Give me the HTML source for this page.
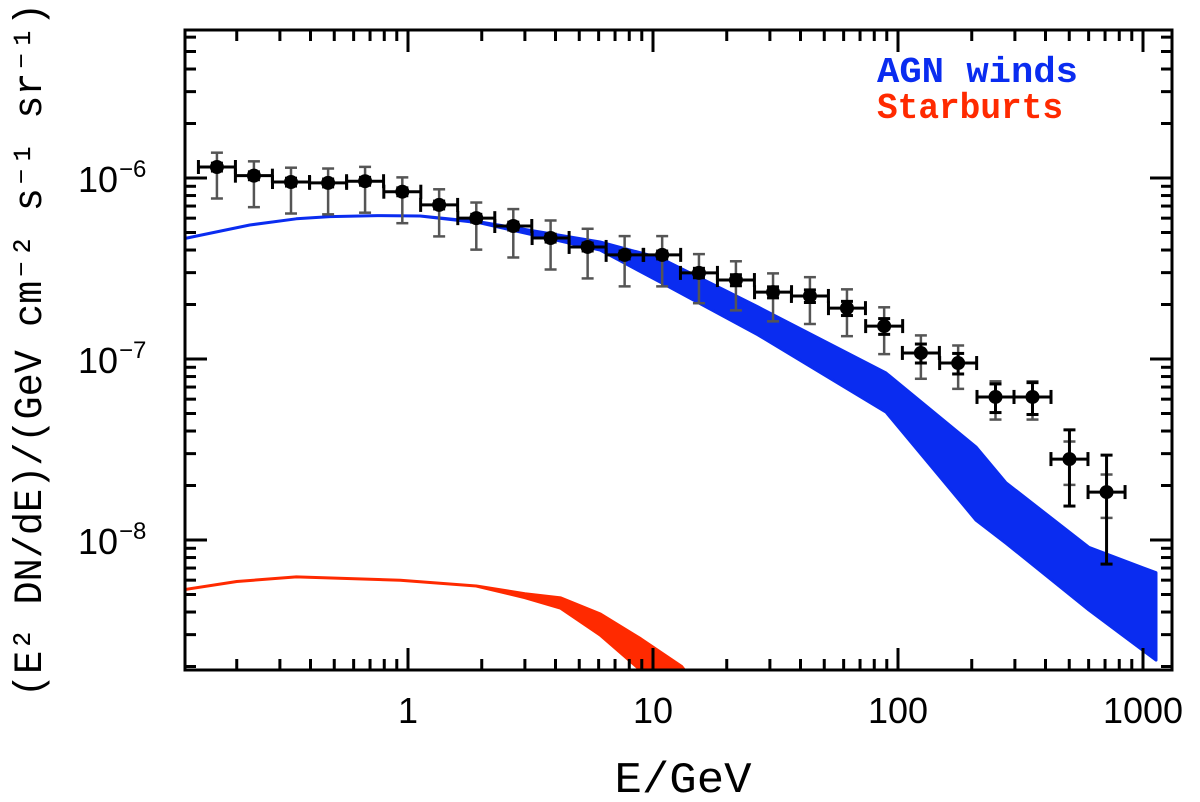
<!DOCTYPE html>
<html><head><meta charset="utf-8"><style>
html,body{margin:0;padding:0;background:#fff;}
svg{display:block;}
</style></head><body>
<svg id="chart" width="1200" height="802" viewBox="0 0 1200 802" xmlns="http://www.w3.org/2000/svg">
<defs><clipPath id="plotclip"><rect x="185" y="30" width="987" height="640"/></clipPath></defs>
<g id="bands" clip-path="url(#plotclip)"></g>
<g id="points"></g>
<g id="axes"></g>
<text x="877" y="82" font-family="Liberation Mono, monospace" font-weight="bold" font-size="36" fill="#0a2cf0" textLength="201" lengthAdjust="spacingAndGlyphs">AGN winds</text>
<text x="877" y="118" font-family="Liberation Mono, monospace" font-weight="bold" font-size="36" fill="#ff2a00" textLength="186" lengthAdjust="spacingAndGlyphs">Starburts</text>
<text x="683" y="792" text-anchor="middle" font-family="Liberation Mono, monospace" font-size="44" fill="#000" textLength="137" lengthAdjust="spacingAndGlyphs">E/GeV</text>
<text transform="translate(41,350) rotate(-90)" text-anchor="middle" font-family="Liberation Mono, monospace" font-size="40" fill="#000" textLength="694" lengthAdjust="spacingAndGlyphs">(E² DN/dE)/(GeV cm⁻² s⁻¹ sr⁻¹)</text>
</svg>
<script>
// ---- data ----
const pointEnergies = [0.166,0.235,0.333,0.472,0.668,0.948,1.34,1.90,2.69,3.82,5.41,7.66,10.9,15.4,21.8,30.9,43.7,61.9,87.8,124,176,250,354,501,710];
const pointFlux = [1.15e-6,1.03e-6,9.5e-7,9.4e-7,9.6e-7,8.4e-7,7.1e-7,6.0e-7,5.43e-7,4.66e-7,4.16e-7,3.76e-7,3.76e-7,2.99e-7,2.73e-7,2.34e-7,2.23e-7,1.91e-7,1.52e-7,1.08e-7,9.5e-8,6.17e-8,6.17e-8,2.8e-8,1.84e-8];
const statErr = [0.05,0.05,0.05,0.05,0.05,0.05,0.05,0.05,0.05,0.05,0.05,0.05,0.05,0.06,0.07,0.07,0.08,0.09,0.1,0.12,0.13,0.18,0.2,0.45,0.6];
const sysUp = [0.2,0.2,0.2,0.2,0.2,0.2,0.22,0.22,0.24,0.25,0.26,0.27,0.27,0.27,0.27,0.27,0.27,0.27,0.27,0.25,0.25,0.22,0.22,0.25,0.25];
const sysDown = [0.33,0.33,0.33,0.33,0.33,0.33,0.33,0.33,0.33,0.33,0.33,0.33,0.33,0.32,0.32,0.31,0.3,0.3,0.3,0.28,0.28,0.25,0.25,0.28,0.28];
const agnE = [0.12,0.226,0.35,0.48,0.75,1.12,1.97,6.08,10.7,26.8,89.3,208,276,602,1130];
const agnUpper = [4.6e-7,5.5e-7,5.95e-7,6.12e-7,6.2e-7,6.17e-7,5.71e-7,4.43e-7,3.61e-7,1.94e-7,8.37e-8,3.27e-8,2.07e-8,9.1e-9,6.6e-9];
const agnLower = [4.6e-7,5.5e-7,5.95e-7,6.12e-7,6.2e-7,6.17e-7,5.65e-7,4.0e-7,2.66e-7,1.36e-7,5.09e-8,1.29e-8,9.6e-9,4.1e-9,2.17e-9];
const sbE = [0.12,0.2,0.35,0.93,1.9,3.0,4.2,6.1,8.9,13.1,15.6];
const sbUpper = [5.3e-9,5.9e-9,6.25e-9,6.0e-9,5.57e-9,5.05e-9,4.79e-9,3.9e-9,2.85e-9,2.0e-9,1.48e-9];
const sbLower = [5.3e-9,5.9e-9,6.25e-9,6.0e-9,5.57e-9,4.8e-9,4.2e-9,2.98e-9,1.91e-9,1.2e-9,0.9e-9];
const xTicks = [1,10,100,1000];
const xTickLabels = ["1","10","100","1000"];
const yTicks = [1e-6,1e-7,1e-8];
const yTickExps = ["−6","−7","−8"];

// ---- axes ----
const L=185,R=1172,T=30,B=670;
function xs(e){return 408+245*Math.log10(e);}
function ys(v){return 178-181*(Math.log10(v)+6);}
const NS="http://www.w3.org/2000/svg";
function mk(tag,attrs,parent){const el=document.createElementNS(NS,tag);for(const k in attrs)el.setAttribute(k,attrs[k]);parent.appendChild(el);return el;}

// bands
const bands=document.getElementById('bands');
function bandPath(E,U,Lo){
  let d='';
  E.forEach((e,i)=>{d+=(i?'L':'M')+xs(e).toFixed(1)+','+ys(U[i]).toFixed(1);});
  for(let i=E.length-1;i>=0;i--){d+='L'+xs(E[i]).toFixed(1)+','+ys(Lo[i]).toFixed(1);}
  return d+'Z';
}
const agn=mk('path',{d:bandPath(agnE,agnUpper,agnLower),fill:'#0a2cf0',stroke:'#0a2cf0','stroke-width':3,'stroke-linejoin':'round'},bands);


const sb=mk('path',{d:bandPath(sbE,sbUpper,sbLower),fill:'#ff2a00',stroke:'#ff2a00','stroke-width':3,'stroke-linejoin':'round'},bands);



// points
const pts=document.getElementById('points');
const hw=18.5;
pointEnergies.forEach((e,i)=>{
  const g=mk('g',{},pts);
  
  
  const x=xs(e),y=ys(pointFlux[i]);
  const gy1=ys(pointFlux[i]*(1+sysUp[i])),gy2=ys(pointFlux[i]*(1-sysDown[i]));
  const sy1=ys(pointFlux[i]*(1+statErr[i])),sy2=ys(pointFlux[i]*Math.max(0.05,1-statErr[i]));
  const gc='#555';
  mk('line',{x1:x,y1:gy1,x2:x,y2:gy2,stroke:gc,'stroke-width':2.5},g);
  mk('line',{x1:x-6,y1:gy1,x2:x+6,y2:gy1,stroke:gc,'stroke-width':2.5},g);
  mk('line',{x1:x-6,y1:gy2,x2:x+6,y2:gy2,stroke:gc,'stroke-width':2.5},g);
  mk('line',{x1:x,y1:sy1,x2:x,y2:sy2,stroke:'#000','stroke-width':3},g);
  mk('line',{x1:x-6,y1:sy1,x2:x+6,y2:sy1,stroke:'#000','stroke-width':3},g);
  mk('line',{x1:x-6,y1:sy2,x2:x+6,y2:sy2,stroke:'#000','stroke-width':3},g);
  mk('line',{x1:x-hw,y1:y,x2:x+hw,y2:y,stroke:'#000','stroke-width':3},g);
  mk('line',{x1:x-hw,y1:y-7,x2:x-hw,y2:y+7,stroke:'#000','stroke-width':3},g);
  mk('line',{x1:x+hw,y1:y-7,x2:x+hw,y2:y+7,stroke:'#000','stroke-width':3},g);
  mk('circle',{cx:x,cy:y,r:7,fill:'#000'},g);
});

// axes frame & ticks
const ax=document.getElementById('axes');
const frame=mk('rect',{x:L,y:T,width:R-L,height:B-T,fill:'none',stroke:'#000','stroke-width':3},ax);


for(let dec=-1;dec<=3;dec++){
  for(let m=1;m<=9;m++){
    const e=m*Math.pow(10,dec);const x=xs(e);
    if(x<L+2||x>R-2)continue;
    const len=m===1?22:11;
    mk('line',{x1:x,y1:B,x2:x,y2:B-len,stroke:'#000','stroke-width':3},ax);
    mk('line',{x1:x,y1:T,x2:x,y2:T+len,stroke:'#000','stroke-width':3},ax);
  }
}
for(let dec=-10;dec<=-5;dec++){
  for(let m=1;m<=9;m++){
    const v=m*Math.pow(10,dec);const y=ys(v);
    if(y<T+2||y>B-2)continue;
    const len=m===1?22:11;
    mk('line',{x1:L,y1:y,x2:L+len,y2:y,stroke:'#000','stroke-width':3},ax);
    mk('line',{x1:R,y1:y,x2:R-len,y2:y,stroke:'#000','stroke-width':3},ax);
  }
}
xTicks.forEach((e,i)=>{
  const t=mk('text',{x:xs(e),y:723,'text-anchor':'middle','font-family':'Liberation Sans, sans-serif','font-size':36,fill:'#000'},ax);
  t.textContent=xTickLabels[i];
  
  
});
yTicks.forEach((v,i)=>{
  const y=ys(v);
  const t=mk('text',{x:78,y:y+14,'font-family':'Liberation Sans, sans-serif','font-size':36,fill:'#000'},ax);
  t.textContent='10';
  
  
  const s=mk('text',{x:119,y:y-1,'font-family':'Liberation Sans, sans-serif','font-size':24,fill:'#000'},ax);
  s.textContent=yTickExps[i];
  
  
});
</script>
</body></html>
